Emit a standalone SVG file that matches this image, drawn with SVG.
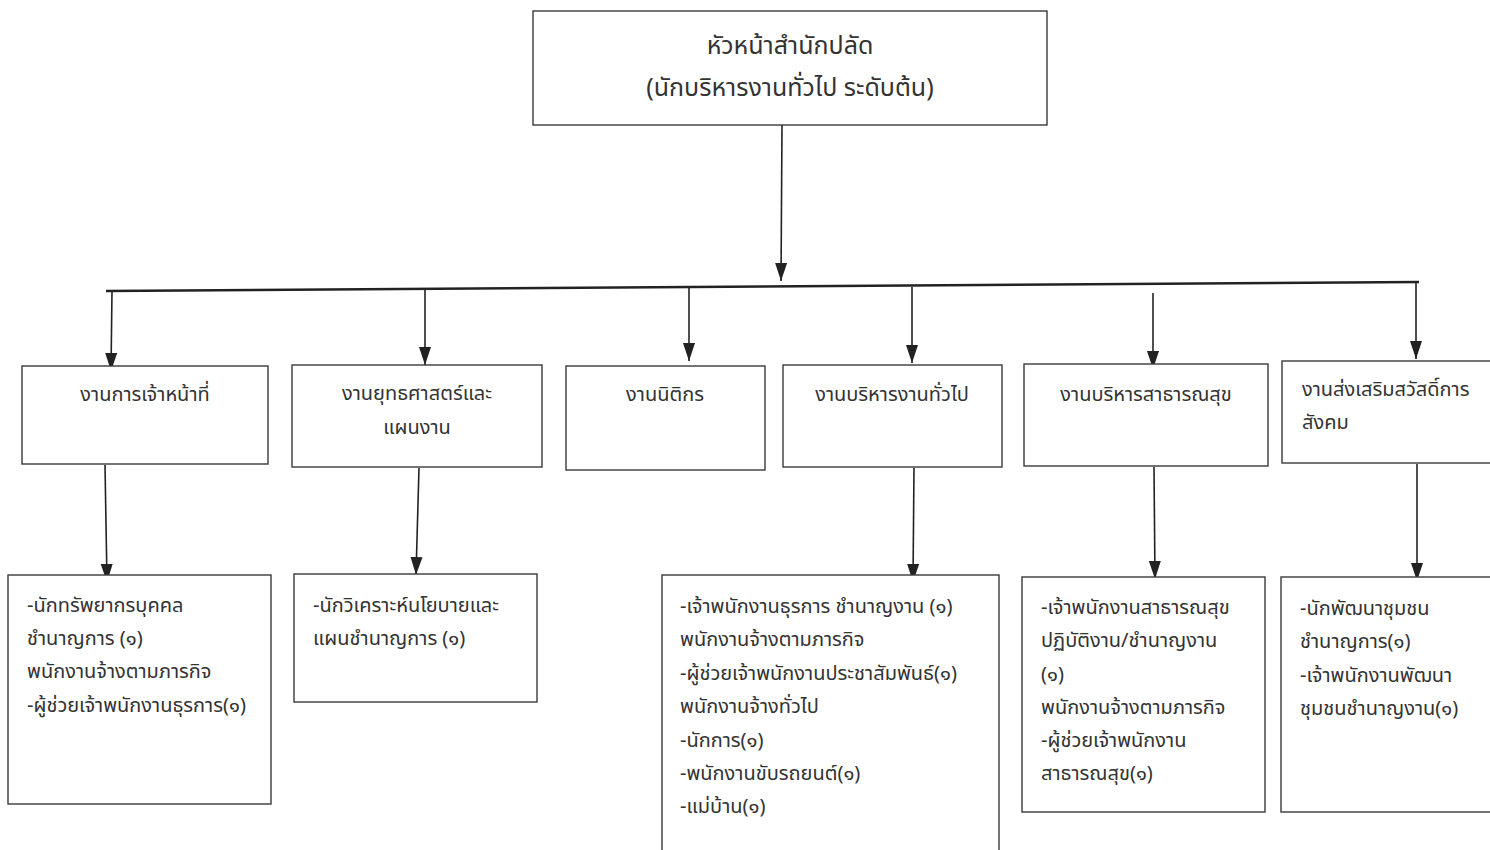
<svg xmlns="http://www.w3.org/2000/svg" width="1490" height="850" viewBox="0 0 1490 850">
<style>
.box{fill:#fff;stroke:#3a3a3a;stroke-width:1.4}
.t{font-family:"Noto Sans Thai","Noto Sans","Loma","Garuda","Tlwg Typo","DejaVu Sans",sans-serif;font-size:20px;fill:#333}
.tc{text-anchor:middle}
.big{font-size:25px}
.ln{stroke:#222;stroke-width:1.6;fill:none}
.bus{stroke:#222;stroke-width:2.6;fill:none}
</style>
<defs>
<marker id="ah" viewBox="0 0 18 14" refX="18" refY="7" markerWidth="18" markerHeight="14" markerUnits="userSpaceOnUse" orient="auto">
<path d="M0,1 L18,7 L0,13 Z" fill="#222"/>
</marker>
</defs>
<rect width="1490" height="850" fill="#fff"/>
<g id="connectors">
<line class="ln" x1="782" y1="125" x2="781" y2="281" marker-end="url(#ah)"/>
<line class="bus" x1="106" y1="291" x2="1419" y2="282"/>
<line class="ln" x1="112" y1="291" x2="111" y2="371" marker-end="url(#ah)"/>
<line class="ln" x1="425" y1="290" x2="425" y2="365" marker-end="url(#ah)"/>
<line class="ln" x1="689" y1="288" x2="689" y2="361" marker-end="url(#ah)"/>
<line class="ln" x1="912" y1="287" x2="912" y2="363" marker-end="url(#ah)"/>
<line class="ln" x1="1153" y1="293" x2="1153" y2="369" marker-end="url(#ah)"/>
<line class="ln" x1="1416" y1="283" x2="1416" y2="359" marker-end="url(#ah)"/>
<line class="ln" x1="105" y1="465" x2="107" y2="582" marker-end="url(#ah)"/>
<line class="ln" x1="419" y1="468" x2="416" y2="575" marker-end="url(#ah)"/>
<line class="ln" x1="914" y1="468" x2="913" y2="582" marker-end="url(#ah)"/>
<line class="ln" x1="1154" y1="467" x2="1155" y2="579" marker-end="url(#ah)"/>
<line class="ln" x1="1417" y1="464" x2="1417" y2="581" marker-end="url(#ah)"/>
</g>
<g id="head">
<rect class="box" x="533" y="11" width="514" height="114"/>
<text class="t tc big" x="790" y="54">หัวหน้าสำนักปลัด</text>
<text class="t tc big" x="790" y="96">(นักบริหารงานทั่วไป ระดับต้น)</text>
</g>
<g id="n1">
<rect class="box" x="22" y="366" width="246" height="98"/>
<text class="t tc" x="145" y="401">งานการเจ้าหน้าที่</text>
</g>
<g id="n2">
<rect class="box" x="292" y="365" width="250" height="102"/>
<text class="t tc" x="417" y="400">งานยุทธศาสตร์และ</text>
<text class="t tc" x="417" y="434">แผนงาน</text>
</g>
<g id="n3">
<rect class="box" x="566" y="366" width="199" height="104"/>
<text class="t tc" x="665" y="401">งานนิติกร</text>
</g>
<g id="n4">
<rect class="box" x="783" y="365" width="219" height="102"/>
<text class="t tc" x="892" y="401">งานบริหารงานทั่วไป</text>
</g>
<g id="n5">
<rect class="box" x="1024" y="364" width="244" height="102"/>
<text class="t tc" x="1146" y="401">งานบริหารสาธารณสุข</text>
</g>
<g id="n6">
<rect class="box" x="1282" y="361" width="220" height="102"/>
<text class="t" x="1302" y="396">งานส่งเสริมสวัสดิ์การ</text>
<text class="t" x="1302" y="429">สังคม</text>
</g>
<g id="s1">
<rect class="box" x="8" y="575" width="263" height="229"/>
<text class="t" x="27" y="612">-นักทรัพยากรบุคคล</text>
<text class="t" x="27" y="645">ชำนาญการ (๑)</text>
<text class="t" x="27" y="678">พนักงานจ้างตามภารกิจ</text>
<text class="t" x="27" y="712">-ผู้ช่วยเจ้าพนักงานธุรการ(๑)</text>
</g>
<g id="s2">
<rect class="box" x="294" y="574" width="243" height="128"/>
<text class="t" x="313" y="612">-นักวิเคราะห์นโยบายและ</text>
<text class="t" x="313" y="645">แผนชำนาญการ (๑)</text>
</g>
<g id="s4">
<rect class="box" x="662" y="575" width="337" height="290"/>
<text class="t" x="680" y="613">-เจ้าพนักงานธุรการ ชำนาญงาน (๑)</text>
<text class="t" x="680" y="646">พนักงานจ้างตามภารกิจ</text>
<text class="t" x="680" y="680">-ผู้ช่วยเจ้าพนักงานประชาสัมพันธ์(๑)</text>
<text class="t" x="680" y="713">พนักงานจ้างทั่วไป</text>
<text class="t" x="680" y="747">-นักการ(๑)</text>
<text class="t" x="680" y="780">-พนักงานขับรถยนต์(๑)</text>
<text class="t" x="680" y="813">-แม่บ้าน(๑)</text>
</g>
<g id="s5">
<rect class="box" x="1022" y="577" width="243" height="235"/>
<text class="t" x="1041" y="614">-เจ้าพนักงานสาธารณสุข</text>
<text class="t" x="1041" y="647">ปฏิบัติงาน/ชำนาญงาน</text>
<text class="t" x="1041" y="681">(๑)</text>
<text class="t" x="1041" y="714">พนักงานจ้างตามภารกิจ</text>
<text class="t" x="1041" y="747">-ผู้ช่วยเจ้าพนักงาน</text>
<text class="t" x="1041" y="780">สาธารณสุข(๑)</text>
</g>
<g id="s6">
<rect class="box" x="1281" y="577" width="220" height="235"/>
<text class="t" x="1300" y="615">-นักพัฒนาชุมชน</text>
<text class="t" x="1300" y="648">ชำนาญการ(๑)</text>
<text class="t" x="1300" y="682">-เจ้าพนักงานพัฒนา</text>
<text class="t" x="1300" y="715">ชุมชนชำนาญงาน(๑)</text>
</g>
</svg>
